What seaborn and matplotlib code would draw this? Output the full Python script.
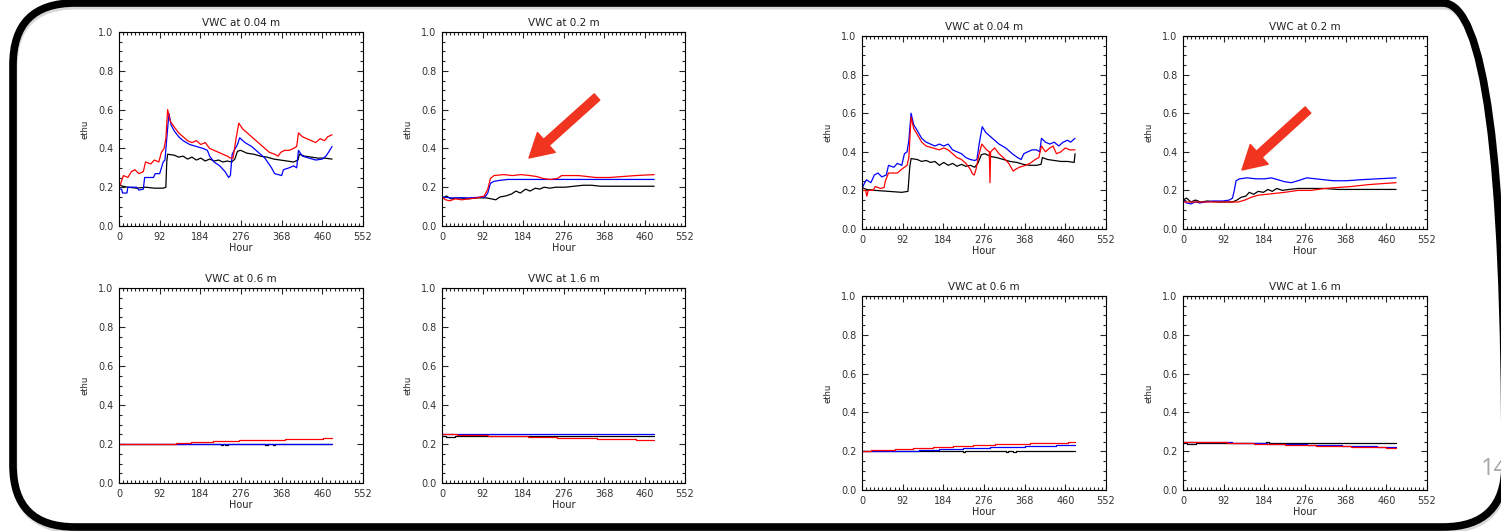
import pandas as pd
import matplotlib
matplotlib.use('Agg')
import matplotlib.pyplot as plt
import seaborn as sns
from matplotlib.ticker import AutoMinorLocator, FormatStrFormatter
from matplotlib.patches import FancyBboxPatch, FancyArrowPatch

# x ticks (hours) and y ticks shared by all panels
hour_ticks = [0, 92, 184, 276, 368, 460, 552]
ethu_ticks = [0.0, 0.2, 0.4, 0.6, 0.8, 1.0]
depths = ['0.04', '0.2', '0.6', '1.6']

# ---- left set of panels: (hour, ethu) ----
l004_black = [(0, .215), (8, .205), (20, .20), (40, .195), (60, .20), (80, .195), (100, .195), (106, .20),
              (108, .33), (110, .37), (125, .365), (135, .355), (145, .36), (155, .345), (165, .355),
              (175, .34), (185, .35), (195, .335), (205, .345), (215, .335), (225, .34), (235, .33),
              (245, .335), (255, .33), (262, .345), (268, .385), (275, .39), (290, .375), (305, .37),
              (320, .36), (335, .355), (350, .345), (365, .34), (380, .335), (395, .33), (405, .34),
              (408, .37), (420, .36), (435, .355), (450, .35), (465, .35), (482, .345)]
l004_blue = [(0, .19), (6, .19), (8, .17), (18, .17), (20, .20), (40, .20), (45, .185), (55, .19), (58, .25),
             (78, .25), (82, .27), (92, .27), (96, .30), (100, .33), (104, .34), (108, .45), (113, .58),
             (118, .52), (125, .49), (135, .46), (145, .44), (160, .42), (175, .41), (190, .40), (200, .39),
             (205, .36), (215, .33), (228, .31), (240, .28), (248, .25), (252, .26), (256, .37), (268, .42),
             (273, .455), (285, .43), (300, .41), (315, .38), (330, .35), (345, .30), (352, .27), (368, .26),
             (372, .29), (385, .30), (395, .31), (402, .30), (406, .39), (415, .36), (430, .35), (445, .34),
             (460, .345), (468, .36), (474, .38), (482, .41)]
l004_red = [(0, .20), (4, .22), (10, .26), (20, .25), (28, .28), (36, .29), (45, .27), (55, .28), (60, .33),
            (72, .32), (80, .34), (90, .33), (96, .38), (102, .40), (106, .45), (110, .60), (116, .54),
            (125, .51), (135, .48), (145, .46), (155, .44), (165, .43), (175, .44), (185, .42), (195, .43),
            (205, .40), (215, .39), (225, .38), (235, .37), (245, .36), (252, .35), (258, .35), (264, .44),
            (271, .53), (280, .50), (295, .47), (310, .44), (325, .41), (340, .38), (352, .37), (360, .36),
            (366, .38), (375, .39), (385, .39), (395, .40), (402, .41), (406, .48), (415, .46), (425, .45),
            (435, .44), (445, .43), (455, .45), (465, .44), (472, .46), (482, .47)]

l02_black = [(0, .14), (10, .155), (20, .14), (40, .145), (60, .14), (80, .145), (100, .145), (112, .14),
             (122, .135), (132, .15), (145, .155), (158, .165), (168, .18), (178, .17), (190, .19), (200, .18),
             (212, .195), (222, .19), (232, .20), (245, .195), (258, .20), (280, .20), (300, .205), (320, .21),
             (340, .21), (360, .205), (400, .205), (440, .205), (482, .205)]
l02_blue = [(0, .15), (20, .145), (60, .145), (98, .15), (104, .17), (110, .22), (118, .23), (130, .235),
            (150, .24), (200, .24), (300, .24), (400, .24), (482, .24)]
l02_red = [(0, .15), (8, .135), (18, .13), (30, .14), (45, .135), (60, .14), (80, .145), (96, .155), (104, .19),
           (110, .245), (118, .26), (140, .265), (160, .26), (180, .265), (200, .26), (215, .255), (230, .245),
           (245, .24), (262, .245), (272, .26), (290, .26), (310, .26), (330, .255), (350, .25), (380, .25),
           (410, .255), (440, .26), (482, .265)]

l06_black = [(0, .202), (75, .20), (230, .195), (236, .20), (240, .195), (246, .20), (330, .195), (338, .20),
             (348, .195), (354, .20), (482, .20)]
l06_blue = [(0, .20), (482, .20)]
l06_red = [(0, .20), (128, .205), (162, .21), (212, .215), (272, .22), (375, .225), (462, .23), (482, .23)]

l16_black = [(0, .24), (8, .235), (30, .24), (482, .24)]
l16_blue = [(0, .25), (482, .25)]
l16_red = [(0, .25), (35, .245), (105, .24), (195, .235), (262, .23), (352, .225), (440, .22), (482, .22)]

# ---- right set of panels ----
r004_black = [(0, .215), (10, .205), (30, .20), (60, .195), (90, .19), (104, .195), (108, .32), (111, .365),
              (125, .36), (135, .35), (145, .355), (155, .345), (165, .35), (175, .33), (185, .345), (195, .33),
              (205, .34), (215, .325), (225, .335), (235, .325), (245, .33), (255, .32), (262, .34), (270, .385),
              (278, .39), (292, .375), (305, .37), (320, .36), (335, .35), (350, .345), (365, .335), (380, .33),
              (395, .33), (405, .335), (408, .37), (420, .36), (435, .355), (450, .35), (465, .35), (480, .345),
              (482, .39)]
r004_blue = [(0, .21), (4, .23), (10, .255), (20, .24), (28, .28), (36, .29), (45, .27), (55, .28), (60, .33),
             (72, .32), (80, .34), (90, .33), (96, .39), (102, .40), (106, .46), (111, .60), (117, .54),
             (125, .51), (135, .47), (145, .45), (155, .44), (165, .43), (175, .44), (185, .43), (195, .44),
             (205, .41), (215, .40), (225, .39), (235, .37), (245, .36), (255, .355), (260, .36), (265, .44),
             (272, .53), (280, .50), (295, .47), (310, .44), (325, .42), (340, .39), (352, .37), (360, .36),
             (366, .39), (375, .40), (385, .41), (395, .41), (402, .40), (406, .47), (415, .45), (425, .44),
             (435, .45), (445, .43), (455, .45), (465, .46), (472, .45), (482, .47)]
r004_red = [(0, .20), (8, .20), (11, .17), (14, .20), (25, .20), (30, .22), (42, .21), (50, .215), (53, .25),
            (60, .29), (80, .29), (90, .31), (96, .32), (102, .33), (106, .37), (111, .58), (117, .52),
            (125, .49), (135, .45), (145, .43), (160, .42), (175, .41), (185, .42), (195, .41), (205, .39),
            (215, .37), (225, .36), (235, .34), (245, .31), (250, .285), (254, .28), (258, .31), (264, .38),
            (271, .44), (282, .41), (288, .40), (289.5, .24), (291, .40), (300, .42), (310, .39), (320, .37),
            (332, .34), (342, .30), (348, .31), (356, .32), (370, .33), (380, .34), (392, .36), (400, .37),
            (406, .43), (415, .40), (425, .42), (432, .43), (440, .39), (450, .40), (460, .42), (470, .41),
            (482, .41)]

r02_black = [(0, .15), (8, .16), (18, .14), (28, .15), (40, .14), (55, .145), (80, .14), (100, .14), (112, .14),
             (122, .15), (132, .165), (142, .17), (150, .19), (160, .18), (170, .195), (182, .19), (192, .205),
             (202, .195), (212, .21), (225, .20), (240, .205), (260, .21), (290, .21), (320, .21), (350, .205),
             (400, .205), (482, .205)]
r02_blue = [(0, .15), (8, .135), (18, .13), (28, .14), (38, .135), (50, .14), (70, .145), (90, .145), (105, .15),
            (112, .16), (116, .20), (120, .25), (128, .26), (145, .265), (165, .26), (185, .26), (200, .265),
            (215, .255), (230, .245), (245, .24), (260, .25), (280, .265), (300, .26), (320, .255), (340, .25),
            (370, .25), (400, .255), (440, .26), (482, .265)]
r02_red = [(0, .14), (40, .14), (80, .14), (110, .14), (125, .14), (140, .15), (155, .165), (170, .175),
           (190, .18), (210, .185), (230, .19), (260, .20), (290, .20), (320, .21), (350, .215), (380, .22),
           (420, .23), (450, .235), (482, .24)]

r06_black = [(0, .20), (228, .195), (234, .20), (325, .195), (331, .20), (342, .195), (348, .20), (482, .20)]
r06_blue = [(0, .20), (130, .205), (175, .21), (228, .215), (290, .22), (368, .225), (440, .23), (482, .23)]
r06_red = [(0, .20), (20, .205), (75, .21), (115, .215), (160, .22), (205, .225), (250, .23), (300, .235),
           (380, .24), (465, .245), (482, .245)]

r16_black = [(0, .24), (8, .235), (30, .24), (188, .245), (194, .24), (482, .24)]
r16_blue = [(0, .25), (40, .245), (110, .24), (190, .235), (280, .23), (360, .225), (440, .22), (482, .22)]
r16_red = [(0, .25), (35, .245), (100, .24), (160, .235), (230, .23), (300, .225), (380, .22), (460, .215),
           (482, .215)]

sns.set_style('ticks')
plt.rcParams['font.family'] = ['DejaVu Sans']

W, H = 1501, 531
fig = plt.figure(figsize=(W / 100, H / 100), dpi=100)
fig.patch.set_facecolor('white')


def add_axes(x0, y0, x1, y1):
    return fig.add_axes([x0 / W, 1 - y1 / H, (x1 - x0) / W, (y1 - y0) / H])


def draw_panel(ax, depth, black, blue, red, steps):
    style = 'steps-post' if steps else 'default'
    for pts, col in ((black, 'black'), (blue, 'blue'), (red, 'red')):
        df = pd.DataFrame(pts, columns=['Hour', 'ethu'])
        sns.lineplot(data=df, x='Hour', y='ethu', ax=ax, color=col, lw=0.9,
                     estimator=None, sort=False, legend=False, drawstyle=style)
    ax.set_xlim(0, 552)
    ax.set_ylim(0, 1.0)
    ax.set_xticks(hour_ticks)
    ax.set_yticks(ethu_ticks)
    ax.yaxis.set_major_formatter(FormatStrFormatter('%.1f'))
    ax.xaxis.set_minor_locator(AutoMinorLocator(10))
    ax.yaxis.set_minor_locator(AutoMinorLocator(4))
    ax.tick_params(which='both', direction='in', top=True, right=True, width=0.8,
                   labelsize=7, labelcolor='#333333', pad=4)
    ax.tick_params(which='major', length=4)
    ax.tick_params(which='minor', length=2)
    for s in ax.spines.values():
        s.set_linewidth(0.8)
        s.set_color('black')
    ax.set_title(f'VWC at {depth} m', fontsize=7.5, color='#222222', pad=4)
    ax.set_xlabel('Hour', fontsize=7, color='#222222', labelpad=1)
    ax.set_ylabel('ethu', fontsize=6, color='#222222', labelpad=6)


left_cols = [(119, 363), (442, 685)]
left_rows = [(32, 226), (288, 483)]
right_cols = [(862, 1106), (1183, 1427)]
right_rows = [(36, 229), (296, 490)]

left_data = [(l004_black, l004_blue, l004_red), (l02_black, l02_blue, l02_red),
             (l06_black, l06_blue, l06_red), (l16_black, l16_blue, l16_red)]
right_data = [(r004_black, r004_blue, r004_red), (r02_black, r02_blue, r02_red),
              (r06_black, r06_blue, r06_red), (r16_black, r16_blue, r16_red)]

for cols, rows, data in ((left_cols, left_rows, left_data), (right_cols, right_rows, right_data)):
    for i, (depth, series) in enumerate(zip(depths, data)):
        (x0, x1), (y0, y1) = cols[i % 2], rows[i // 2]
        ax = add_axes(x0, y0, x1, y1)
        draw_panel(ax, depth, *series, steps=(i >= 2))

# slide frame, pixel coordinates (origin bottom-left) via inches
px = fig.dpi_scale_trans
shadow = FancyBboxPatch((14 / 100, 1 / 100), 1492 / 100, 524 / 100,
                        boxstyle='round,pad=0,rounding_size=0.62', transform=px,
                        fc='none', ec='#b0b0b0', lw=5, alpha=0.5)
frame = FancyBboxPatch((13 / 100, 4 / 100), 1492 / 100, 524 / 100,
                       boxstyle='round,pad=0,rounding_size=0.62', transform=px,
                       fc='none', ec='black', lw=5.5)
fig.add_artist(shadow)
fig.add_artist(frame)

# red arrows
for (xa, ya), (xb, yb) in (((597, 97), (529, 158)), ((1308, 110), (1242, 170))):
    arr = FancyArrowPatch((xa / 100, (H - ya) / 100), (xb / 100, (H - yb) / 100), transform=px,
                          arrowstyle='simple,head_width=1.6,head_length=1.4,tail_width=0.5',
                          mutation_scale=12, color='#f0341f', shrinkA=0, shrinkB=0)
    fig.add_artist(arr)

fig.text(1481 / W, 1 - 469 / H, '14', fontsize=17, color='#a6a6a6', ha='left', va='center',
         family=['Open Sans', 'DejaVu Sans'])

fig.savefig('out.png', dpi=100)
